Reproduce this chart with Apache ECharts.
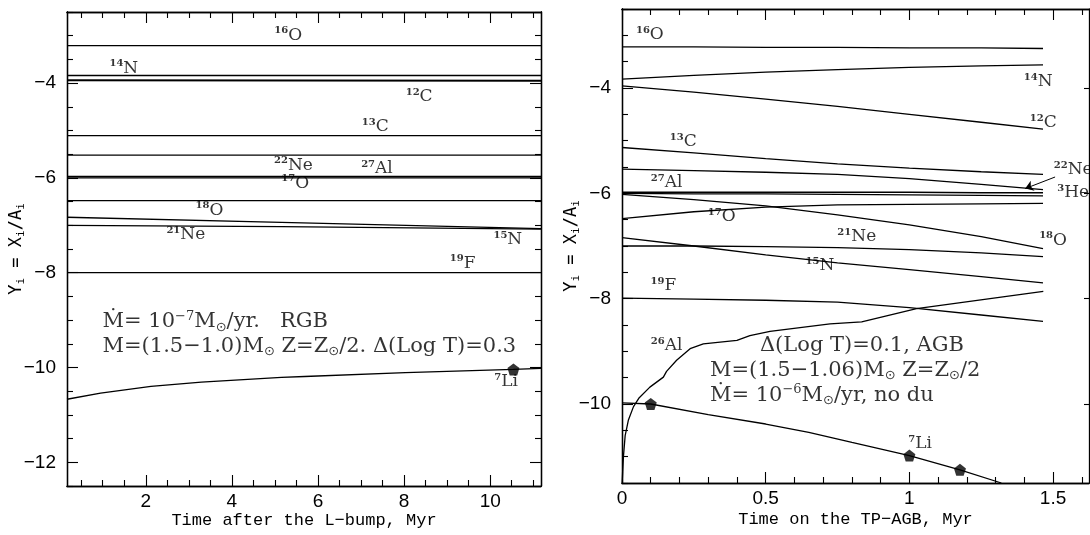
<!DOCTYPE html>
<html>
<head>
<meta charset="utf-8">
<script src="https://cdn.jsdelivr.net/npm/echarts@6/dist/echarts.min.js"></script>
<style>html,body{margin:0;background:#fff}#main{width:1090px;height:535px}</style>
</head>
<body>
<div id="main"></div>
<script>
// ---- left panel: RGB, time after the L-bump (Myr) ----
var rgbTime = [0.17, 11.18];
var rgbO16 = [-3.21, -3.21];
var rgbN14 = [-3.84, -3.84];
var rgbC12 = [-3.94, -3.95];
var rgbC13 = [-5.11, -5.11];
var rgbNe22 = [-5.52, -5.52];
var rgbAl27 = [-5.97, -5.97];
var rgbO17 = [-6.0, -6.0];
var rgbO18 = [-6.48, -6.48];
var rgbF19 = [-8.0, -8.0];
var rgbTime3 = [0.17, 5.15, 11.18];
var rgbNe21 = [-6.83, -6.94, -7.07];
var rgbN15 = [-7.0, -7.03, -7.08];
var rgbLiTime = [0.17, 0.95, 2.12, 3.29, 5.15, 5.69, 8.03, 10.54, 11.18];
var rgbLi7 = [-10.67, -10.54, -10.4, -10.31, -10.21, -10.19, -10.11, -10.04, -10.02];
var rgbDots = [[10.54, -10.04]];

var rgbLabelMass = ['16', '14', '12', '13', '22', '27', '17', '18', '21', '15', '19', '7'];
var rgbLabelElem = ['O', 'N', 'C', 'C', 'Ne', 'Al', 'O', 'O', 'Ne', 'N', 'F', 'Li'];
var rgbLabelAt = [[5.31, -2.99], [1.49, -3.69], [8.35, -4.29], [7.33, -4.92], [5.43, -5.73], [7.37, -5.80],
    [5.47, -6.11], [3.48, -6.68], [2.93, -7.20], [10.41, -7.31], [9.36, -7.80], [10.37, -10.30]];

// ---- right panel: TP-AGB ----
var agbTime = [0, 0.25, 0.5, 0.75, 1.0, 1.25, 1.465];
var agbO16 = [-3.22, -3.22, -3.23, -3.23, -3.24, -3.24, -3.25];
var agbN14 = [-3.83, -3.76, -3.70, -3.65, -3.61, -3.58, -3.56];
var agbC12 = [-3.96, -4.08, -4.21, -4.35, -4.50, -4.65, -4.78];
var agbC13 = [-5.13, -5.23, -5.34, -5.44, -5.52, -5.59, -5.64];
var agbNe22 = [-5.54, -5.57, -5.60, -5.64, -5.72, -5.83, -5.93];
var agbAl27 = [-5.98, -5.98, -5.98, -5.98, -5.98, -5.99, -5.99];
var agbHe3 = [-6.0, -6.01, -6.01, -6.02, -6.03, -6.04, -6.05];
var agbO18 = [-6.02, -6.12, -6.24, -6.41, -6.60, -6.82, -7.05];
var agbO17 = [-6.48, -6.35, -6.26, -6.22, -6.21, -6.20, -6.19];
var agbN15 = [-6.84, -7.0, -7.17, -7.32, -7.45, -7.58, -7.70];
var agbNe21 = [-7.0, -7.0, -7.01, -7.03, -7.07, -7.13, -7.20];
var agbF19 = [-7.99, -8.01, -8.03, -8.065, -8.17, -8.31, -8.43];
var agbAlTime = [0.0005, 0.005, 0.011, 0.022, 0.04, 0.06, 0.097, 0.144, 0.155, 0.19, 0.237, 0.283, 0.4, 0.445, 0.515, 0.724, 0.834, 1.025, 1.466];
var agbAl26 = [-11.5, -11.0, -10.6, -10.31, -10.05, -9.88, -9.68, -9.49, -9.38, -9.17, -8.95, -8.86, -8.79, -8.7, -8.62, -8.48, -8.44, -8.19, -7.86];
var agbLiTime = [0, 0.1, 0.3, 0.5, 0.65, 0.8, 1.0, 1.176, 1.32];
var agbLi7 = [-9.98, -10.0, -10.2, -10.38, -10.54, -10.73, -10.98, -11.25, -11.5];
var agbDots = [[0.1, -10.0], [1.0, -10.98], [1.176, -11.25]];
var agbArrow = [[1.507, -5.69], [1.403, -5.91]];

var agbLabelMass = ['16', '14', '12', '13', '22', '3', '27', '17', '21', '18', '15', '19', '26', '7'];
var agbLabelElem = ['O', 'N', 'C', 'C', 'Ne', 'He', 'Al', 'O', 'Ne', 'O', 'N', 'F', 'Al', 'Li'];
var agbLabelAt = [[0.097, -2.99], [1.448, -3.88], [1.466, -4.66], [0.213, -5.02], [1.57, -5.55], [1.57, -5.99],
    [0.155, -5.80], [0.347, -6.45], [0.817, -6.83], [1.50, -6.89], [0.689, -7.37], [0.144, -7.75], [0.155, -8.89], [1.037, -10.76]];

// ticks
var rgbXMajor = [2, 4, 6, 8, 10];
var rgbXMinor = [0.5, 1, 1.5, 2.5, 3, 3.5, 4.5, 5, 5.5, 6.5, 7, 7.5, 8.5, 9, 9.5, 10.5, 11];
var rgbYMajor = [-12, -10, -8, -6, -4];
var rgbYMinor = [-12.5, -11.5, -11, -10.5, -9.5, -9, -8.5, -7.5, -7, -6.5, -5.5, -5, -4.5, -3.5, -3, -2.5];
var agbXMajor = [0, 0.5, 1, 1.5];
var agbXMinor = [0.1, 0.2, 0.3, 0.4, 0.6, 0.7, 0.8, 0.9, 1.1, 1.2, 1.3, 1.4, 1.6];
var agbYMajor = [-10, -8, -6, -4];
var agbYMinor = [-11.5, -11, -10.5, -9.5, -9, -8.5, -7.5, -7, -6.5, -5.5, -5, -4.5, -3.5, -3, -2.5];

var notesLeft = [
    '{t|Ṁ= 10}{sup|−7}{t|M}{sub|⊙}{t|/yr.   RGB}',
    '{t|M=(1.5−1.0)M}{sub|⊙}{t| Z=Z}{sub|⊙}{t|/2. Δ(Log T)=0.3}'
];
var notesLeftAt = [[0.995, -9.04], [0.995, -9.55]];
var notesRight = [
    '{t|Δ(Log T)=0.1, AGB}',
    '{t|M=(1.5−1.06)M}{sub|⊙}{t| Z=Z}{sub|⊙}{t|/2}',
    '{t|Ṁ= 10}{sup|−6}{t|M}{sub|⊙}{t|/yr, no du}'
];
var notesRightAt = [[0.48, -8.89], [0.306, -9.36], [0.306, -9.84]];

var myChart = echarts.init(document.getElementById('main'));

var BLACK = '#000';
var SERIF = 'DejaVu Serif';

function zip(xs, ys) {
    return xs.map(function (x, i) { return [x, ys[i]]; });
}

function tickAxis(grid, pos, min, max, ticks, len, extra) {
    var a = {
        type: 'value', gridIndex: grid, position: pos, min: min, max: max,
        axisLine: { show: true, onZero: false, lineStyle: { color: BLACK, width: 1.3 } },
        axisTick: { show: true, inside: true, length: len, customValues: ticks, lineStyle: { color: BLACK, width: 1.1 } },
        axisLabel: { show: false },
        splitLine: { show: false }
    };
    return Object.assign(a, extra || {});
}

function labelAxis(ticks, margin) {
    return {
        show: true, color: BLACK, fontSize: 19, fontFamily: 'Liberation Sans', margin: margin,
        customValues: ticks,
        formatter: function (v) { return String(v).replace('-', '−'); }
    };
}

var yName = '{m|Y}{s|i}{m| = X}{s|i}{m|/A}{s|i}';
var yNameStyle = {
    color: BLACK,
    rich: {
        m: { fontSize: 17, fontFamily: 'DejaVu Sans Mono', color: BLACK, lineHeight: 20 },
        s: { fontSize: 11, fontFamily: 'DejaVu Sans Mono', color: BLACK, lineHeight: 8, verticalAlign: 'bottom' }
    }
};
var xNameStyle = { color: BLACK, fontSize: 17, fontFamily: 'Liberation Mono' };

var xAxes = [
    tickAxis(0, 'bottom', 0.17, 11.18, rgbXMajor, 11, {
        axisLabel: labelAxis(rgbXMajor, 6),
        name: 'Time after the L−bump, Myr', nameLocation: 'middle', nameGap: 26, nameMoveOverlap: false,
        nameTextStyle: xNameStyle
    }),
    tickAxis(0, 'bottom', 0.17, 11.18, rgbXMinor, 6),
    tickAxis(0, 'top', 0.17, 11.18, rgbXMajor, 11),
    tickAxis(0, 'top', 0.17, 11.18, rgbXMinor, 6),
    tickAxis(1, 'bottom', 0, 1.625, agbXMajor, 11, {
        axisLabel: labelAxis(agbXMajor, 6),
        name: 'Time on the TP−AGB, Myr', nameLocation: 'middle', nameGap: 28, nameMoveOverlap: false,
        nameTextStyle: xNameStyle
    }),
    tickAxis(1, 'bottom', 0, 1.625, agbXMinor, 6),
    tickAxis(1, 'top', 0, 1.625, agbXMajor, 11),
    tickAxis(1, 'top', 0, 1.625, agbXMinor, 6)
];

var yAxes = [
    tickAxis(0, 'left', -12.5, -2.5, rgbYMajor, 11, {
        axisLabel: labelAxis(rgbYMajor, 11),
        name: yName, nameLocation: 'middle', nameGap: 40, nameMoveOverlap: false, nameTextStyle: yNameStyle
    }),
    tickAxis(0, 'left', -12.5, -2.5, rgbYMinor, 6),
    tickAxis(0, 'right', -12.5, -2.5, rgbYMajor, 11),
    tickAxis(0, 'right', -12.5, -2.5, rgbYMinor, 6),
    tickAxis(1, 'left', -11.5, -2.5, agbYMajor, 11, {
        axisLabel: labelAxis(agbYMajor, 11),
        name: yName, nameLocation: 'middle', nameGap: 40, nameMoveOverlap: false, nameTextStyle: yNameStyle
    }),
    tickAxis(1, 'left', -11.5, -2.5, agbYMinor, 6),
    tickAxis(1, 'right', -11.5, -2.5, agbYMajor, 5)
];

function curve(panel, data, extra) {
    var s = {
        type: 'line',
        xAxisIndex: panel === 0 ? 0 : 4,
        yAxisIndex: panel === 0 ? 0 : 4,
        data: data,
        showSymbol: false,
        symbol: 'none',
        silent: true,
        lineStyle: { color: BLACK, width: 1.3 },
        emphasis: { disabled: true }
    };
    return Object.assign(s, extra || {});
}

var pentagon = 'path://M0,-10 L9.51,-3.09 L5.88,8.09 L-5.88,8.09 L-9.51,-3.09 Z';

function dots(panel, data) {
    return {
        type: 'scatter',
        xAxisIndex: panel === 0 ? 0 : 4,
        yAxisIndex: panel === 0 ? 0 : 4,
        data: data, symbol: pentagon, symbolSize: 12, silent: true,
        itemStyle: { color: BLACK }
    };
}

var isoRich = {
    s: { fontSize: 10, fontWeight: 'bold', fontFamily: SERIF, color: BLACK, lineHeight: 10, verticalAlign: 'top' },
    n: { fontSize: 17, fontFamily: SERIF, color: BLACK, lineHeight: 19 }
};

function isoLabels(panel, mass, elem, at) {
    return {
        type: 'scatter',
        xAxisIndex: panel === 0 ? 0 : 4,
        yAxisIndex: panel === 0 ? 0 : 4,
        symbolSize: 0, silent: true, clip: false,
        data: at.map(function (p, i) { return { value: p, name: '{s|' + mass[i] + '}{n|' + elem[i] + '}' }; }),
        label: { show: true, position: 'inside', formatter: '{b}', rich: isoRich }
    };
}

var noteRich = {
    t: { fontSize: 21, fontFamily: SERIF, color: BLACK, lineHeight: 24 },
    sup: { fontSize: 13, fontFamily: SERIF, color: BLACK, lineHeight: 12, verticalAlign: 'top' },
    sub: { fontSize: 13, fontFamily: 'DejaVu Sans', color: BLACK, lineHeight: 12, verticalAlign: 'bottom' }
};

function notes(panel, texts, at) {
    return {
        type: 'scatter',
        xAxisIndex: panel === 0 ? 0 : 4,
        yAxisIndex: panel === 0 ? 0 : 4,
        symbolSize: 0, silent: true,
        data: at.map(function (p, i) { return { value: p, name: texts[i] }; }),
        label: { show: true, position: 'right', distance: 0, formatter: '{b}', rich: noteRich }
    };
}

var series = [
    curve(0, zip(rgbTime, rgbO16)),
    curve(0, zip(rgbTime, rgbN14)),
    curve(0, zip(rgbTime, rgbC12), { lineStyle: { color: BLACK, width: 1.8 } }),
    curve(0, zip(rgbTime, rgbC13)),
    curve(0, zip(rgbTime, rgbNe22)),
    curve(0, zip(rgbTime, rgbAl27)),
    curve(0, zip(rgbTime, rgbO17)),
    curve(0, zip(rgbTime, rgbO18)),
    curve(0, zip(rgbTime, rgbF19)),
    curve(0, zip(rgbTime3, rgbNe21)),
    curve(0, zip(rgbTime3, rgbN15)),
    curve(0, zip(rgbLiTime, rgbLi7)),
    dots(0, rgbDots),
    isoLabels(0, rgbLabelMass, rgbLabelElem, rgbLabelAt),
    notes(0, notesLeft, notesLeftAt),

    curve(1, zip(agbTime, agbO16)),
    curve(1, zip(agbTime, agbN14)),
    curve(1, zip(agbTime, agbC12)),
    curve(1, zip(agbTime, agbC13)),
    curve(1, zip(agbTime, agbNe22), {
        markLine: {
            silent: true, symbol: ['none', 'arrow'], symbolSize: 8,
            lineStyle: { type: 'solid', color: BLACK, width: 1 },
            label: { show: false },
            data: [[{ coord: agbArrow[0] }, { coord: agbArrow[1] }]]
        }
    }),
    curve(1, zip(agbTime, agbAl27), { lineStyle: { color: BLACK, width: 1.6 } }),
    curve(1, zip(agbTime, agbHe3)),
    curve(1, zip(agbTime, agbO18)),
    curve(1, zip(agbTime, agbO17)),
    curve(1, zip(agbTime, agbN15)),
    curve(1, zip(agbTime, agbNe21)),
    curve(1, zip(agbTime, agbF19)),
    curve(1, zip(agbAlTime, agbAl26)),
    curve(1, zip(agbLiTime, agbLi7)),
    dots(1, agbDots),
    isoLabels(1, agbLabelMass, agbLabelElem, agbLabelAt),
    notes(1, notesRight, notesRightAt)
];

var option = {
    animation: false,
    backgroundColor: '#fff',
    grid: [
        { left: 67, top: 12, width: 474, height: 474, containLabel: false, outerBoundsMode: 'none' },
        { left: 622, top: 9, width: 467, height: 474, containLabel: false, outerBoundsMode: 'none' }
    ],
    xAxis: xAxes,
    yAxis: yAxes,
    series: series
};

myChart.setOption(option);
</script>
</body>
</html>
